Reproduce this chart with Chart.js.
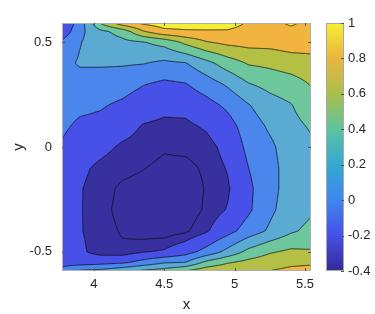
<!DOCTYPE html>
<html>
<head>
<meta charset="utf-8">
<script src="https://cdn.jsdelivr.net/npm/chart.js@4.4.1/dist/chart.umd.min.js"></script>
<style>
  html, body { margin: 0; padding: 0; background: #fff; }
  #wrap { width: 375px; height: 314px; }
</style>
</head>
<body>
<div id="wrap"><canvas id="contourChart"></canvas></div>
<script>
// grid of the measured surface: columns (x) and rows (y, top to bottom)
const xGrid = [3.77, 3.9, 4.05, 4.2, 4.35, 4.5, 4.65, 4.8, 4.95, 5.1, 5.25, 5.4, 5.54];
const yGrid = [0.59, 0.55, 0.5, 0.4, 0.3, 0.2, 0.1, 0, -0.1, -0.2, -0.3, -0.4, -0.5, -0.55, -0.59];
const zGrid = [
    [-0.28, -0.02, 0.52, 0.8, 0.93, 1.0, 1.0, 0.98, 0.97, 0.88, 0.86, 0.92, 0.86],
    [-0.25, 0.05, 0.25, 0.375, 0.68, 0.84, 0.87, 0.88, 0.88, 0.84, 0.82, 0.86, 0.84],
    [-0.06, 0.09, 0.2, 0.25, 0.29, 0.37, 0.55, 0.69, 0.75, 0.77, 0.77, 0.8, 0.79],
    [0.04, 0.12, 0.12, 0.12, 0.11, 0.06, 0.09, 0.24, 0.4, 0.52, 0.55, 0.6, 0.63],
    [0.02, 0.02, 0.02, -0.01, -0.09, -0.14, -0.11, 0.0, 0.13, 0.29, 0.36, 0.41, 0.51],
    [-0.02, -0.05, -0.08, -0.136, -0.22, -0.26, -0.25, -0.17, -0.06, 0.09, 0.22, 0.29, 0.41],
    [-0.06, -0.14, -0.16, -0.24, -0.31, -0.33, -0.33, -0.28, -0.18, 0.0, 0.13, 0.24, 0.32],
    [-0.12, -0.22, -0.26, -0.32, -0.35, -0.385, -0.375, -0.35, -0.25, -0.05, 0.06, 0.2, 0.26],
    [-0.18, -0.27, -0.33, -0.37, -0.395, -0.43, -0.43, -0.38, -0.29, -0.1, 0.04, 0.18, 0.24],
    [-0.23, -0.29, -0.36, -0.42, -0.44, -0.47, -0.47, -0.39, -0.32, -0.14, 0.04, 0.18, 0.25],
    [-0.25, -0.29, -0.37, -0.43, -0.45, -0.48, -0.47, -0.38, -0.29, -0.13, 0.06, 0.2, 0.27],
    [-0.25, -0.29, -0.36, -0.41, -0.46, -0.46, -0.42, -0.32, -0.17, -0.01, 0.13, 0.27, 0.35],
    [-0.24, -0.27, -0.36, -0.38, -0.31, -0.28, -0.18, -0.03, 0.16, 0.36, 0.48, 0.54, 0.52],
    [-0.17, -0.2, -0.17, -0.14, -0.03, 0.08, 0.1, 0.35, 0.48, 0.56, 0.62, 0.66, 0.67],
    [-0.05, 0.12, 0.15, 0.25, 0.33, 0.38, 0.5, 0.62, 0.66, 0.69, 0.7, 0.74, 0.76]
];
const levels = [-0.4, -0.3, -0.1, 0.1, 0.3, 0.5, 0.7, 0.9];
const bandColors = ["#37309e", "#37309e", "#4751e7", "#4a86ec", "#5aaad2", "#6ec69c", "#b3bf45", "#f0b43f", "#f6ee30"];

const xTicks = [4, 4.5, 5, 5.5];
const yTicks = [-0.5, 0, 0.5];
const barTicks = [-0.4, -0.2, 0, 0.2, 0.4, 0.6, 0.8, 1];
const barColors = ["#352a97", "#4650e6", "#3f86f0", "#34a8d2", "#5cc3a0", "#aabf4c", "#eab542", "#f7ee2e"];

const textColor = "#262626";
Chart.defaults.font.family = "'Liberation Sans', Arial, Helvetica, sans-serif";
Chart.defaults.font.size = 13;
Chart.defaults.color = textColor;

function hexToRgb(h) {
    return [parseInt(h.slice(1, 3), 16), parseInt(h.slice(3, 5), 16), parseInt(h.slice(5, 7), 16)];
}

// where v sits in arr (ascending or descending) -> [index, fraction]
function locate(arr, v) {
    const n = arr.length;
    const asc = arr[n - 1] > arr[0];
    for (let i = 0; i < n - 1; i++) {
        const a = arr[i], b = arr[i + 1];
        if ((asc && v <= b) || (!asc && v >= b)) {
            let t = (v - a) / (b - a);
            return [i, Math.min(1, Math.max(0, t))];
        }
    }
    return [n - 2, 1];
}

function zAt(x, y) {
    const [i, t] = locate(xGrid, x);
    const [j, u] = locate(yGrid, y);
    const z00 = zGrid[j][i], z01 = zGrid[j][i + 1];
    const z10 = zGrid[j + 1][i], z11 = zGrid[j + 1][i + 1];
    return (z00 * (1 - t) + z01 * t) * (1 - u) + (z10 * (1 - t) + z11 * t) * u;
}

function bandOf(z) {
    let k = 0;
    while (k < levels.length && z >= levels[k]) k++;
    return k;
}

const contourPlugin = {
    id: "contourFill",
    beforeDatasetsDraw(chart) {
        const { ctx, chartArea } = chart;
        const xs = chart.scales.x, ys = chart.scales.y;
        const ox = Math.round(chartArea.left), oy = Math.round(chartArea.top);
        const W = Math.round(chartArea.right) - ox, H = Math.round(chartArea.bottom) - oy;
        const field = new Float32Array(W * H);
        const off = document.createElement("canvas");
        off.width = W; off.height = H;
        const octx = off.getContext("2d");
        const img = octx.createImageData(W, H);
        const rgb = bandColors.map(hexToRgb);
        for (let j = 0; j < H; j++) {
            const yv = ys.getValueForPixel(oy + j + 0.5);
            for (let i = 0; i < W; i++) {
                const xv = xs.getValueForPixel(ox + i + 0.5);
                const z = zAt(xv, yv);
                field[j * W + i] = z;
                const c = rgb[bandOf(z)];
                const p = (j * W + i) * 4;
                img.data[p] = c[0]; img.data[p + 1] = c[1]; img.data[p + 2] = c[2]; img.data[p + 3] = 255;
            }
        }
        octx.putImageData(img, 0, 0);
        ctx.save();
        ctx.drawImage(off, ox, oy);

        // contour lines (marching squares on the pixel field)
        ctx.strokeStyle = "rgba(10,10,10,0.85)";
        ctx.lineWidth = 0.9;
        levels.forEach(L => {
            ctx.beginPath();
            for (let j = 0; j < H - 1; j++) {
                for (let i = 0; i < W - 1; i++) {
                    const a = field[j * W + i], b = field[j * W + i + 1];
                    const c = field[(j + 1) * W + i + 1], d = field[(j + 1) * W + i];
                    const pts = [];
                    if ((a >= L) !== (b >= L)) pts.push([i + (L - a) / (b - a), j]);
                    if ((b >= L) !== (c >= L)) pts.push([i + 1, j + (L - b) / (c - b)]);
                    if ((d >= L) !== (c >= L)) pts.push([i + (L - d) / (c - d), j + 1]);
                    if ((a >= L) !== (d >= L)) pts.push([i, j + (L - a) / (d - a)]);
                    for (let k = 0; k + 1 < pts.length; k += 2) {
                        ctx.moveTo(ox + pts[k][0] + 0.5, oy + pts[k][1] + 0.5);
                        ctx.lineTo(ox + pts[k + 1][0] + 0.5, oy + pts[k + 1][1] + 0.5);
                    }
                }
            }
            ctx.stroke();
        });
        ctx.restore();
    },
    afterDraw(chart) {
        const { ctx, chartArea } = chart;
        const xs = chart.scales.x, ys = chart.scales.y, cb = chart.scales.cb;
        ctx.save();
        // axes box and inward ticks
        ctx.strokeStyle = "#b0b0b0";
        ctx.lineWidth = 1;
        ctx.strokeRect(chartArea.left + 0.5, chartArea.top + 0.5,
            chartArea.right - chartArea.left - 1, chartArea.bottom - chartArea.top - 1);
        ctx.strokeStyle = "#555";
        ctx.beginPath();
        xTicks.forEach(v => {
            const px = Math.round(xs.getPixelForValue(v)) + 0.5;
            ctx.moveTo(px, chartArea.bottom); ctx.lineTo(px, chartArea.bottom - 3);
            ctx.moveTo(px, chartArea.top); ctx.lineTo(px, chartArea.top + 3);
        });
        yTicks.forEach(v => {
            const py = Math.round(ys.getPixelForValue(v)) + 0.5;
            ctx.moveTo(chartArea.left, py); ctx.lineTo(chartArea.left + 3, py);
            ctx.moveTo(chartArea.right, py); ctx.lineTo(chartArea.right - 3, py);
        });
        ctx.stroke();

        // colour bar
        const bx0 = chartArea.right + 15, bx1 = chartArea.right + 33;
        const top = cb.getPixelForValue(1), bot = cb.getPixelForValue(-0.4);
        const grad = ctx.createLinearGradient(0, bot, 0, top);
        barTicks.forEach((v, i) => grad.addColorStop((v + 0.4) / 1.4, barColors[i]));
        ctx.fillStyle = grad;
        ctx.fillRect(bx0, top, bx1 - bx0, bot - top);
        ctx.strokeStyle = "#a8a8a8";
        ctx.strokeRect(bx0 + 0.5, top + 0.5, bx1 - bx0 - 1, bot - top - 1);
        ctx.strokeStyle = "#555";
        ctx.beginPath();
        barTicks.forEach(v => {
            const py = Math.round(cb.getPixelForValue(v)) + 0.5;
            ctx.moveTo(bx1, py); ctx.lineTo(bx1 - 3, py);
        });
        ctx.stroke();
        ctx.restore();
    }
};

const ctx = document.getElementById("contourChart").getContext("2d");

const chart = new Chart(ctx, {
    type: "scatter",
    data: {
        datasets: [{
            data: [],
            pointRadius: 0
        }]
    },
    options: {
        responsive: true,
        maintainAspectRatio: false,
        animation: false,
        layout: { padding: { top: 23, left: 0, right: 0, bottom: 0 } },
        plugins: { legend: { display: false }, tooltip: { enabled: false } },
        scales: {
            x: {
                type: "linear",
                min: 3.773,
                max: 5.543,
                afterFit: s => { s.height = 43; },
                afterBuildTicks: s => { s.ticks = xTicks.map(v => ({ value: v })); },
                grid: { display: false, drawTicks: false },
                border: { display: false },
                ticks: { padding: 6, maxRotation: 0, callback: v => String(v) },
                title: { display: true, text: "x", font: { size: 15 }, padding: 0 }
            },
            y: {
                type: "linear",
                min: -0.591,
                max: 0.591,
                afterFit: s => { s.width = 62; },
                afterBuildTicks: s => { s.ticks = yTicks.map(v => ({ value: v })); },
                grid: { display: false, drawTicks: false },
                border: { display: false },
                ticks: { padding: 10, callback: v => String(v) },
                title: { display: true, text: "y", font: { size: 15 }, padding: 10 }
            },
            cb: {
                type: "linear",
                position: "right",
                min: -0.4,
                max: 1,
                afterFit: s => { s.width = 64; },
                afterBuildTicks: s => { s.ticks = barTicks.map(v => ({ value: v })); },
                grid: { display: true, drawOnChartArea: false, drawTicks: true, tickLength: 34, color: "rgba(0,0,0,0)" },
                border: { display: false },
                ticks: { padding: 3, callback: v => String(Math.round(v * 10) / 10) }
            }
        }
    },
    plugins: [contourPlugin]
});
</script>
</body>
</html>
